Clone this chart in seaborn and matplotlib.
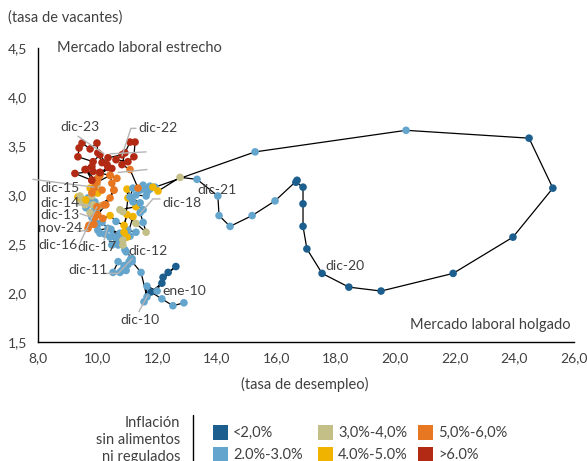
import numpy as np
import pandas as pd
import matplotlib.pyplot as plt
import seaborn as sns
from matplotlib.patches import Rectangle
from matplotlib.lines import Line2D
from matplotlib.ticker import FuncFormatter, MultipleLocator

# tasa de desempleo (eje x), ene-10 a nov-24
desempleo = [
    12.90, 12.53, 12.16, 11.79, 12.16, 12.37, 12.63, 12.20, 12.00, 11.66, 11.56, 11.66,
    11.46, 11.16, 10.89, 10.69, 10.52, 10.75, 10.96, 11.12, 11.02, 10.82, 11.06, 11.16,
    10.92, 10.69, 10.48, 10.65, 10.89, 11.09, 11.29, 11.02, 10.75, 10.52, 10.82, 10.96,
    10.62, 10.42, 10.25, 10.08, 9.98, 10.15, 10.35, 10.01, 9.91, 9.85, 9.98, 9.81,
    9.91, 9.75, 9.61, 9.48, 9.68, 9.91, 10.08, 9.95, 9.75, 9.58, 9.41, 9.85,
    9.34, 9.41, 9.61, 9.81, 10.01, 9.98, 10.15, 9.91, 9.75, 9.81, 10.01, 9.88,
    10.08, 10.35, 10.08, 9.81, 9.61, 9.98, 10.42, 10.65, 10.48, 10.55, 10.42, 9.98,
    10.22, 10.01, 9.71, 9.88, 10.18, 10.42, 10.62, 10.89, 10.99, 11.19, 10.99, 10.45,
    10.85, 10.85, 10.89, 11.02, 10.99, 11.29, 10.75, 10.85, 11.29, 11.63, 11.53, 11.43,
    11.53, 11.19, 11.43, 11.09, 11.19, 11.43, 11.66, 11.53, 11.76, 11.63, 11.29, 11.53,
    11.76, 11.93, 15.29, 20.36, 24.49, 25.29, 23.95, 21.94, 19.52, 18.44, 17.54, 17.03,
    16.90, 16.90, 16.90, 16.66, 16.70, 15.96, 15.19, 14.45, 14.08, 14.04, 13.34, 12.77,
    12.03, 11.86, 11.36, 11.09, 10.82, 10.92, 11.09, 11.26, 11.22, 11.02, 10.62, 10.82,
    10.35, 10.15, 10.01, 9.98, 9.75, 9.48, 9.38, 9.34, 9.85, 9.81, 9.58, 10.08,
    10.32, 10.48, 10.08, 9.81, 9.24, 9.85, 10.42, 10.55, 10.28, 9.91, 9.68,
]

# tasa de vacantes (eje y)
vacantes = [
    1.90, 1.87, 1.94, 2.01, 2.10, 2.21, 2.27, 2.16, 2.02, 2.07, 1.91, 1.96,
    2.21, 2.32, 2.28, 2.32, 2.21, 2.21, 2.23, 2.35, 2.29, 2.23, 2.32, 2.35,
    2.44, 2.49, 2.49, 2.54, 2.56, 2.58, 2.62, 2.64, 2.61, 2.58, 2.52, 2.42,
    2.56, 2.57, 2.60, 2.61, 2.69, 2.72, 2.66, 2.64, 2.73, 2.83, 2.80, 2.77,
    2.85, 2.91, 2.87, 2.95, 2.97, 2.93, 2.89, 2.83, 2.82, 2.90, 2.94, 2.90,
    2.98, 2.99, 2.95, 2.99, 3.02, 3.10, 3.05, 3.13, 3.07, 3.02, 3.17, 3.07,
    3.20, 3.28, 3.23, 3.15, 3.26, 3.13, 3.20, 3.17, 3.12, 3.05, 2.97, 2.88,
    2.90, 2.80, 2.69, 2.70, 2.76, 2.79, 2.73, 2.69, 2.80, 2.78, 2.57, 2.65,
    2.54, 2.49, 2.62, 2.97, 3.06, 2.88, 2.85, 2.83, 2.71, 2.62, 2.72, 2.82,
    2.85, 2.93, 2.92, 2.98, 3.07, 3.05, 3.03, 3.10, 3.06, 2.99, 3.00, 3.07,
    3.09, 3.08, 3.44, 3.66, 3.58, 3.07, 2.57, 2.20, 2.02, 2.06, 2.20, 2.45,
    2.68, 2.91, 3.08, 3.13, 3.15, 2.94, 2.79, 2.68, 2.79, 2.99, 3.16, 3.18,
    3.04, 3.08, 3.07, 3.26, 3.31, 3.43, 3.54, 3.54, 3.39, 3.34, 3.36, 3.41,
    3.38, 3.33, 3.43, 3.53, 3.47, 3.53, 3.48, 3.39, 3.34, 3.29, 3.26, 3.41,
    3.31, 3.27, 3.23, 3.15, 3.22, 3.24, 3.20, 3.05, 2.90, 2.77, 2.66,
]

# rango de inflación sin alimentos ni regulados (índice en categorias)
rango_inflacion = [
    1, 1, 1, 0, 0, 0, 0, 0, 1, 1, 1, 1,
    1, 1, 1, 1, 1, 1, 1, 1, 1, 1, 1, 1,
    1, 1, 1, 1, 1, 1, 1, 1, 1, 1, 1, 1,
    1, 1, 1, 1, 1, 1, 1, 1, 1, 1, 1, 1,
    1, 1, 1, 1, 1, 1, 2, 1, 2, 2, 2, 2,
    3, 2, 3, 2, 3, 2, 4, 4, 3, 4, 4, 4,
    4, 5, 5, 5, 5, 4, 4, 4, 4, 4, 4, 4,
    4, 4, 4, 4, 4, 3, 1, 3, 3, 3, 3, 1,
    2, 2, 3, 3, 3, 3, 2, 2, 2, 2, 1, 1,
    1, 1, 1, 1, 1, 1, 1, 1, 1, 1, 1, 1,
    1, 1, 1, 1, 0, 0, 0, 0, 0, 0, 0, 0,
    0, 0, 0, 0, 0, 1, 1, 1, 1, 1, 1, 2,
    3, 3, 4, 4, 5, 5, 5, 5, 5, 5, 5, 5,
    5, 5, 5, 5, 5, 5, 5, 5, 5, 5, 5, 5,
    5, 5, 5, 5, 5, 5, 4, 4, 4, 4, 4,
]

categorias = ["<2,0%", "2.0%-3.0%", "3,0%-4,0%", "4.0%-5.0%", "5,0%-6,0%", ">6.0%"]
colores = ["#1c5f8e", "#64a5cd", "#c3bf87", "#f0b400", "#e87722", "#b22914"]

# etiquetas de fechas (texto, x, y)
etiquetas = ["dic-23", "dic-22", "dic-15", "dic-14", "dic-13", "nov-24", "dic-16", "dic-17",
             "dic-21", "dic-18", "dic-12", "dic-11", "ene-10", "dic-10", "dic-20"]
etiq_x = [8.74, 11.36, 8.07, 8.07, 8.07, 8.00, 8.00, 9.31, 13.34, 12.16, 11.02, 9.01, 12.17, 10.75, 17.64]
etiq_y = [3.69, 3.68, 3.07, 2.92, 2.80, 2.66, 2.49, 2.47, 3.05, 2.92, 2.43, 2.23, 2.02, 1.72, 2.28]

# líneas guía grises
guias = [
    [(9.34, 3.60), (10.22, 3.42)],
    [(10.42, 3.42), (11.63, 3.44)],
    [(11.29, 3.68), (11.12, 3.68), (10.82, 3.40)],
    [(10.69, 3.23), (11.66, 3.26)],
    [(7.83, 3.16), (9.88, 3.08)],
    [(9.28, 2.90), (9.75, 2.89)],
    [(9.41, 2.81), (9.81, 2.77)],
    [(9.34, 2.63), (9.68, 2.64)],
    [(9.41, 2.51), (9.98, 2.88)],
    [(10.22, 2.54), (10.35, 2.68)],
    [(10.22, 2.20), (10.69, 2.20), (11.16, 2.35)],
    [(12.10, 2.96), (11.86, 2.96), (11.43, 2.81)],
    [(11.39, 1.81), (11.69, 1.98)],
]

df = pd.DataFrame({
    "desempleo": desempleo,
    "vacantes": vacantes,
    "inflacion": [categorias[i] for i in rango_inflacion],
})
df["orden"] = range(len(df))

sns.set_style("white")
plt.rcParams["font.family"] = ["Lato", "DejaVu Sans"]
gris = "#404040"

fig = plt.figure(figsize=(5.87, 4.61), dpi=100)
ax = fig.add_axes([38 / 587, 1 - 342 / 461, 536 / 587, 294 / 461])

sns.lineplot(data=df, x="desempleo", y="vacantes", sort=False, estimator=None,
             color="black", linewidth=0.9, ax=ax, zorder=2)
sns.scatterplot(data=df, x="desempleo", y="vacantes", hue="inflacion",
                hue_order=categorias, palette=colores, s=30, linewidth=0,
                legend=False, ax=ax, zorder=3)

for g in guias:
    xs, ys = zip(*g)
    ax.plot(xs, ys, color="#b4b4b4", linewidth=1, zorder=4, clip_on=False)

for t, x, y in zip(etiquetas, etiq_x, etiq_y):
    ax.text(x, y, t, fontsize=10, color=gris, ha="left", va="center", zorder=5)

ax.set_xlim(8, 26)
ax.set_ylim(1.5, 4.5)
ax.xaxis.set_major_locator(MultipleLocator(2))
ax.yaxis.set_major_locator(MultipleLocator(0.5))
fmt = FuncFormatter(lambda v, p: f"{v:.1f}".replace(".", ","))
ax.xaxis.set_major_formatter(fmt)
ax.yaxis.set_major_formatter(fmt)
ax.tick_params(direction="in", length=4, width=1, color="black",
               labelcolor=gris, labelsize=10)
ax.tick_params(axis="x", pad=7)
ax.tick_params(axis="y", pad=8)
ax.set_xlabel("")
ax.set_ylabel("")
sns.despine(ax=ax)
for s in ["left", "bottom"]:
    ax.spines[s].set_color("black")
    ax.spines[s].set_linewidth(1)

ax.text(8.65, 4.5, "Mercado laboral estrecho", fontsize=10.5, color=gris, va="center")
ax.text(25.9, 1.67, "Mercado laboral holgado", fontsize=10.5, color=gris,
        va="center", ha="right")

fig.text(8 / 587, 1 - 18 / 461, "(tasa de vacantes)", fontsize=10.5, color=gris, va="center")
fig.text(305 / 587, 1 - 384 / 461, "(tasa de desempleo)", fontsize=10.5, color=gris,
         va="center", ha="center")

# leyenda
fig.text(180 / 587, 1 - 440 / 461, "Inflación\nsin alimentos\nni regulados",
         fontsize=10.5, color=gris, ha="right", va="center", linespacing=1.3)
fig.add_artist(Line2D([193 / 587, 193 / 587], [1 - 415 / 461, 0], color="black", linewidth=1))
col_x = [213, 318, 418]
fila_y = [425, 447]
for i, (c, col) in enumerate(zip(categorias, colores)):
    cx = col_x[i // 2]
    cy = fila_y[i % 2]
    fig.add_artist(Rectangle((cx / 587, 1 - (cy + 15) / 461), 15 / 587, 15 / 461,
                             facecolor=col, edgecolor="none"))
    fig.text((cx + 20) / 587, 1 - (cy + 8) / 461, c, fontsize=10.5, color=gris, va="center")

fig.savefig("out.png", dpi=100)
